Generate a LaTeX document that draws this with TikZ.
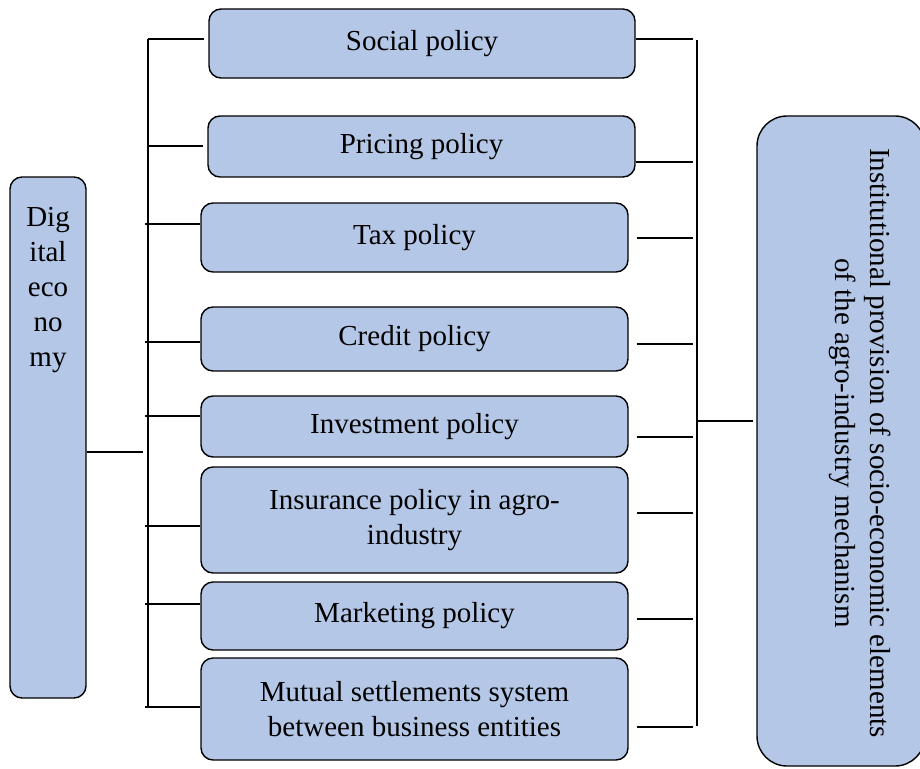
\documentclass[tikz,border=0pt]{standalone}
\usepackage{fontspec}
\setmainfont{Liberation Serif}
\definecolor{boxblue}{HTML}{B4C7E7}
\newcommand{\fsz}{\fontsize{29}{35}\selectfont}
\begin{document}
\begin{tikzpicture}[x=1pt,y=-1pt,
  pbox/.style={draw=black, line width=1.4pt, fill=boxblue, rounded corners=12pt, inner sep=0pt, align=center, font=\fsz},
  txt/.style={inner sep=0pt, align=center},
  conn/.style={draw=black, line width=1.8pt}]
\useasboundingbox (0,0) rectangle (920,768);
\clip (0,0) rectangle (920,768);

% middle boxes
\node[pbox, minimum width=426pt, minimum height=69pt] (b1) at (422,43.5) {Social policy};
\node[pbox, minimum width=427pt, minimum height=61pt] (b2) at (421.5,146.5) {Pricing policy};
\node[pbox, minimum width=427pt, minimum height=69pt] (b3) at (414.5,237.5) {Tax policy};
\node[pbox, minimum width=427pt, minimum height=64pt] (b4) at (414.5,339) {Credit policy};
\node[pbox, minimum width=427pt, minimum height=61pt] (b5) at (414.5,426.5) {Investment policy};
\node[pbox, minimum width=427pt, minimum height=106pt] (b6) at (414.5,520) {Insurance policy in agro-\\industry};
\node[pbox, minimum width=427pt, minimum height=68pt] (b7) at (414.5,616) {Marketing policy};
\node[pbox, minimum width=427pt, minimum height=102pt] (b8) at (414.5,709) {Mutual settlements system\\between business entities};

% left box
\node[pbox, minimum width=76pt, minimum height=521pt] (D) at (48,437.5) {};
\node[txt, font=\fsz, anchor=north] (Dt) at (48,207) {Dig\\ital\\eco\\no\\my};

% right box
\node[pbox, rounded corners=30pt, minimum width=168pt, minimum height=650pt] (R) at (841,441) {};
\node[txt, font=\fsz, rotate=-90] (Rt) at (860,443) {Institutional provision of socio-economic elements\\of the agro-industry mechanism};

% left bus
\coordinate (LT) at (148,39);
\coordinate (LB) at (148,707);
\draw[conn] (LT) -- (LB);
\coordinate (L1) at (148,39);
\coordinate (L2) at (148,146);
\coordinate (L3) at (145,224);
\coordinate (L4) at (145,342);
\coordinate (L5) at (145,416);
\coordinate (L6) at (145,526);
\coordinate (L7) at (145,604);
\coordinate (L8) at (145,707);
\draw[conn, shorten >=4pt] (L1) -- (L1 -| b1.west);
\draw[conn, shorten >=4pt] (L2) -- (L2 -| b2.west);
\foreach \i in {3,...,8}{\draw[conn] (L\i) -- (L\i -| b\i.west);}
\coordinate (DL) at (143,452);
\draw[conn] (DL -| D.east) -- (DL);

% right bus
\coordinate (RT) at (697,40);
\coordinate (RB) at (697,726);
\draw[conn] (RT) -- (RB);
\coordinate (R1) at (693,39);
\coordinate (R2) at (693,162);
\coordinate (R3) at (693,238);
\coordinate (R4) at (693,344);
\coordinate (R5) at (693,437);
\coordinate (R6) at (693,513);
\coordinate (R7) at (693,619);
\coordinate (R8) at (693,727);
\draw[conn] (b1.east |- R1) -- (R1);
\draw[conn] (b2.east |- R2) -- (R2);
\foreach \i in {3,...,8}{\draw[conn, shorten <=8pt] (b\i.east |- R\i) -- (R\i);}
\coordinate (RC) at (697,421);
\draw[conn, shorten >=3pt] (RC) -- (RC -| R.west);
\end{tikzpicture}
\end{document}
